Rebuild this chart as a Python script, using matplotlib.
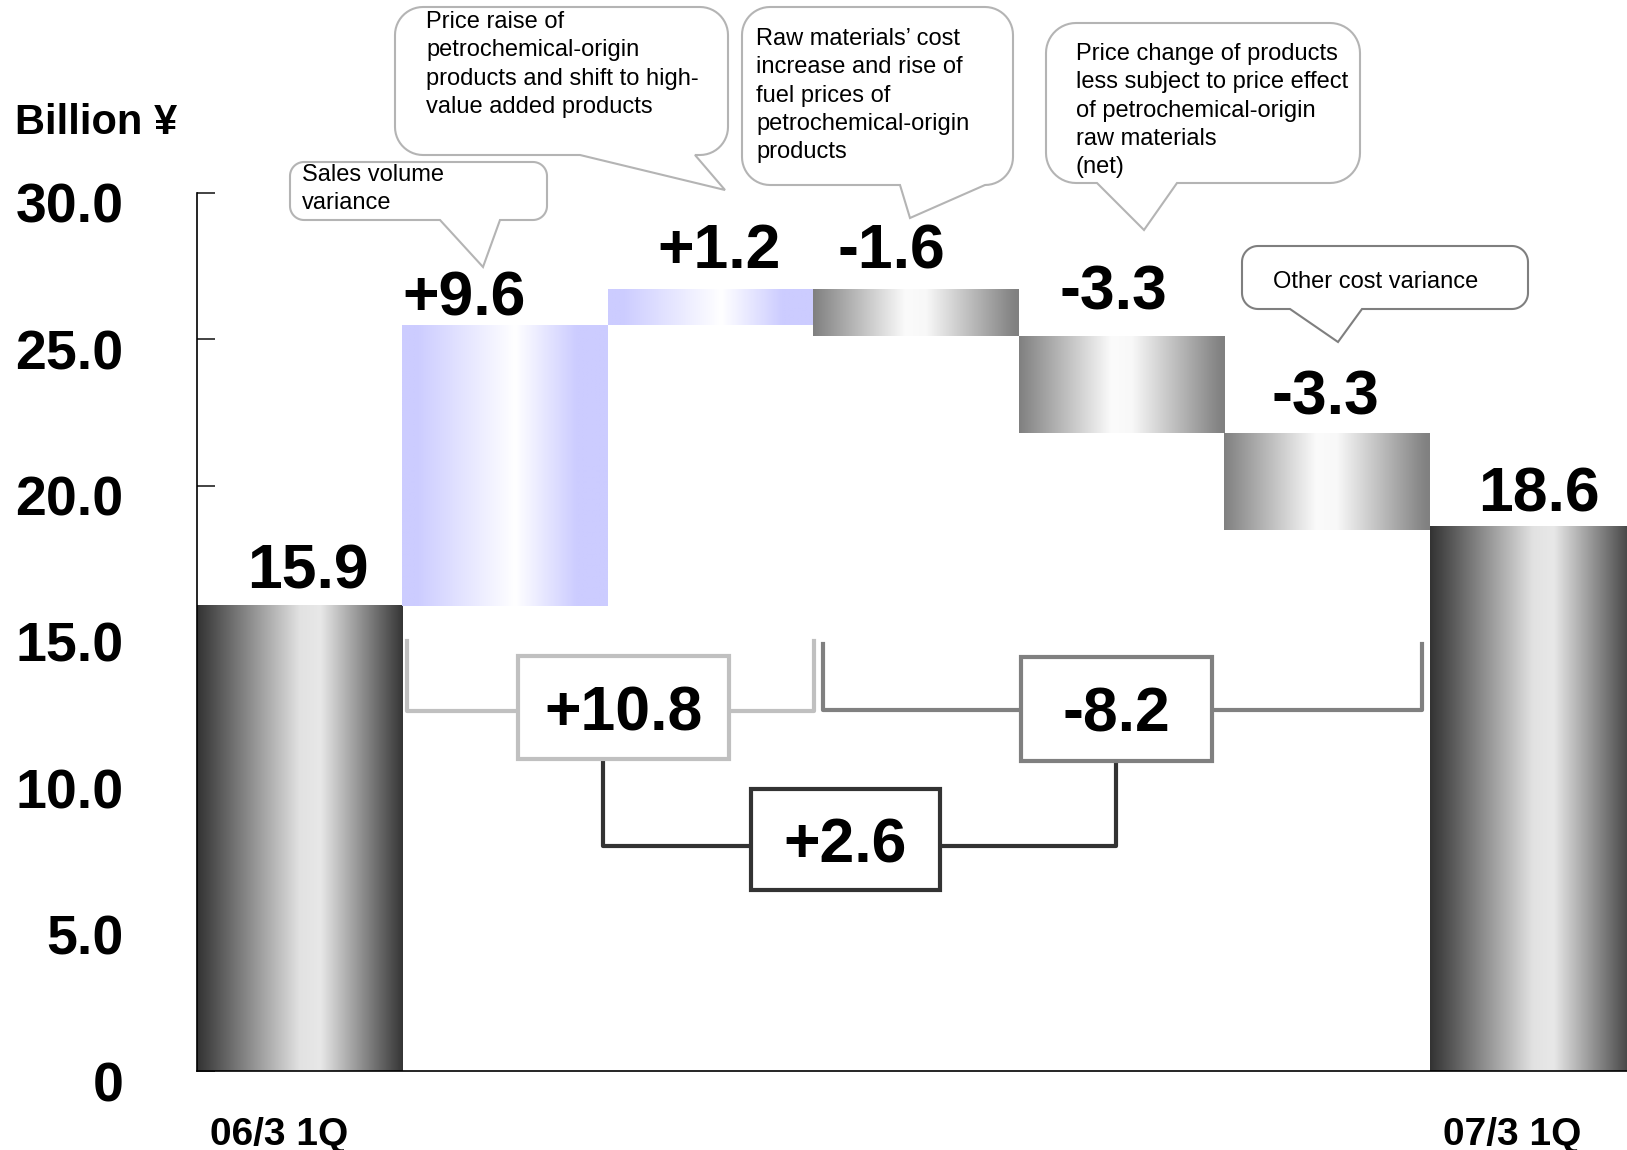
import matplotlib
matplotlib.use("Agg")
import matplotlib.pyplot as plt
import matplotlib.transforms as mtransforms
import numpy as np
from matplotlib.colors import LinearSegmentedColormap
from matplotlib.patches import Rectangle, Polygon

plt.rcParams['font.family'] = ['Liberation Sans', 'DejaVu Sans']

# ---------------------------------------------------------------- data
categories = ["06/3 1Q", "", "", "", "", "", "07/3 1Q"]
start_value = 15.9
changes = [9.6, 1.2, -1.6, -3.3, -3.3]
end_value = 18.6
group_a = [0, 1]          # indexes into changes -> +10.8
group_b = [2, 3, 4]       # indexes into changes -> -8.2
y_ticks = [0, 5, 10, 15, 20, 25, 30]
y_tick_labels = ["0", "5.0", "10.0", "15.0", "20.0", "25.0", "30.0"]
notes = [
    "Sales volume\nvariance",
    "Price raise of\npetrochemical-origin\nproducts and shift to high-\nvalue added products",
    "Raw materials\u2019 cost\nincrease and rise of\nfuel prices of\npetrochemical-origin\nproducts",
    "Price change of products\nless subject to price effect\nof petrochemical-origin\nraw materials\n(net)",
    "Other cost variance",
]

# ---------------------------------------------------------------- waterfall
bottoms, tops, kinds, labels = [0], [start_value], ["total"], [f"{start_value:.1f}"]
level = start_value
for c in changes:
    new = level + c
    bottoms.append(min(level, new))
    tops.append(max(level, new))
    kinds.append("up" if c > 0 else "down")
    labels.append(f"{c:+.1f}")
    level = new
bottoms.append(0)
tops.append(end_value)
kinds.append("total")
labels.append(f"{end_value:.1f}")
xs = np.arange(len(categories))

cmaps = {
    "total": LinearSegmentedColormap.from_list("t", [(0, "#333333"), (0.5, "#e2e2e2"), (0.6, "#e8e8e8"), (1, "#363636")]),
    "up": LinearSegmentedColormap.from_list("u", [(0, "#ccccff"), (0.07, "#ccccff"), (0.55, "#ffffff"), (0.85, "#ccccff"), (1, "#ccccff")]),
    "down": LinearSegmentedColormap.from_list("d", [(0, "#808080"), (0.45, "#fbfbfb"), (0.55, "#f8f8f8"), (0.97, "#848484"), (1, "#808080")]),
}

W, H = 1627, 1150
fig = plt.figure(figsize=(W / 100, H / 100), dpi=100)
ax = fig.add_axes([197 / W, 1 - 1071 / H, 1 - 197 / W, (1071 - 193) / H])

grad = np.linspace(0, 1, 256)[np.newaxis, :]
for x, b, t, k in zip(xs, bottoms, tops, kinds):
    ax.imshow(grad, extent=[x - 0.5, x + 0.5, b, t], cmap=cmaps[k], aspect="auto",
              interpolation="bilinear", zorder=2)

# value labels (offsets: x shift, baseline above bar top)
label_dx = [0.04, -0.20, 0.04, -0.12, -0.04, -0.01, 0.03]
label_dy = [0.58, 0.30, 0.73, 0.73, 0.93, 0.63, 0.53]
for x, t, s, dx, dy in zip(xs, tops, labels, label_dx, label_dy):
    ax.text(x + dx, t + dy, s, ha="center", va="baseline", fontsize=45,
            fontweight="bold", clip_on=False, zorder=5)

# subtotal brackets
sum_a = round(sum(changes[i] for i in group_a), 1)
sum_b = round(sum(changes[i] for i in group_b), 1)
total = round(sum_a + sum_b, 1)

def boxed(x0, x1, y0, y1, text, color):
    ax.add_patch(Rectangle((x0, y0), x1 - x0, y1 - y0, facecolor="white",
                           edgecolor=color, linewidth=3, zorder=4))
    ax.text((x0 + x1) / 2, (y0 + y1) / 2 - 0.77, text, ha="center", va="baseline",
            fontsize=45, fontweight="bold", zorder=5)

lw = 3
c1, c2, c3 = "#c0c0c0", "#808080", "#333333"
ax.plot([0.52, 0.52, 2.505, 2.505], [14.7, 12.3, 12.3, 14.7], color=c1, lw=lw, zorder=3)
boxed(1.06, 2.09, 10.67, 14.17, f"{sum_a:+.1f}", c1)
ax.plot([2.546, 2.546, 5.46, 5.46], [14.6, 12.33, 12.33, 14.6], color=c2, lw=lw, zorder=3)
boxed(3.51, 4.44, 10.59, 14.14, f"{sum_b:+.1f}", c2)
ax.plot([1.476, 1.476, 3.97, 3.97], [10.67, 7.69, 7.69, 10.59], color=c3, lw=lw, zorder=3)
boxed(2.196, 3.116, 6.17, 9.64, f"{total:+.1f}", c3)

ax.set_xlim(-0.5, 6.459)
ax.set_ylim(0, 30)
ax.set_xticks([])
ax.set_yticks(y_ticks)
ax.set_yticklabels(y_tick_labels, fontsize=40, fontweight="bold")
ax.tick_params(axis="y", direction="in", length=13, width=1.2, pad=53, color="#222222")
shift = mtransforms.ScaledTranslation(0, -10 / 100, fig.dpi_scale_trans)
for lab in ax.get_yticklabels():
    lab.set_transform(lab.get_transform() + shift)
for s in ["top", "right"]:
    ax.spines[s].set_visible(False)
ax.spines["left"].set_linewidth(1.2)
ax.spines["bottom"].set_linewidth(1.2)
ax.set_facecolor("none")

for x, cat in zip(xs, categories):
    if cat:
        ax.text(x - 0.1, 0, cat, transform=mtransforms.blended_transform_factory(ax.transData, fig.transFigure),
                ha="center", va="baseline", fontsize=28, fontweight="bold")
# put the category baseline near the bottom edge of the figure
for t in ax.texts[-2:]:
    t.set_y(1 - 1145 / H)

fig.text(14.5 / W, 1 - 134 / H, "Billion \u00a5", fontsize=30, fontweight="bold",
         ha="left", va="baseline")

# callout bubbles drawn in pixel coordinates
ov = fig.add_axes([0, 0, 1, 1])
ov.set_xlim(0, W)
ov.set_ylim(H, 0)
ov.axis("off")

def bubble(x0, y0, x1, y1, r, b1, b2, apex):
    def arc(cx, cy, a0, a1):
        t = np.radians(np.linspace(a0, a1, 14))
        return list(zip(cx + r * np.cos(t), cy + r * np.sin(t)))
    pts = [(x0 + r, y0), (x1 - r, y0)]
    pts += arc(x1 - r, y0 + r, -90, 0)
    pts += arc(x1 - r, y1 - r, 0, 90)
    pts += [(b2, y1), apex, (b1, y1)]
    pts += arc(x0 + r, y1 - r, 90, 180)
    pts += arc(x0 + r, y0 + r, 180, 270)
    return pts

bubbles = [
    (290, 162, 547, 220, 14, 440, 500, (483, 267), 302, 164, "#b4b4b4"),
    (395, 7, 728, 155, 28, 580, 695, (725, 190), 426, 11, "#b4b4b4"),
    (742, 7, 1013, 185, 28, 900, 985, (910, 218), 756, 28, "#b4b4b4"),
    (1046, 23, 1360, 183, 30, 1097, 1177, (1144, 230), 1076, 43, "#b4b4b4"),
    (1242, 246, 1528, 309, 16, 1290, 1362, (1338, 342), 1273, 271, "#7f7f7f"),
]
for (x0, y0, x1, y1, r, b1, b2, apex, tx, ty, ec), note in zip(bubbles, notes):
    ov.add_patch(Polygon(bubble(x0, y0, x1, y1, r, b1, b2, apex), closed=True,
                         facecolor="white", edgecolor=ec, linewidth=1.5))
    ov.text(tx, ty, note, ha="left", va="top", fontsize=17, linespacing=1.37)

fig.savefig("out.png", dpi=100)
